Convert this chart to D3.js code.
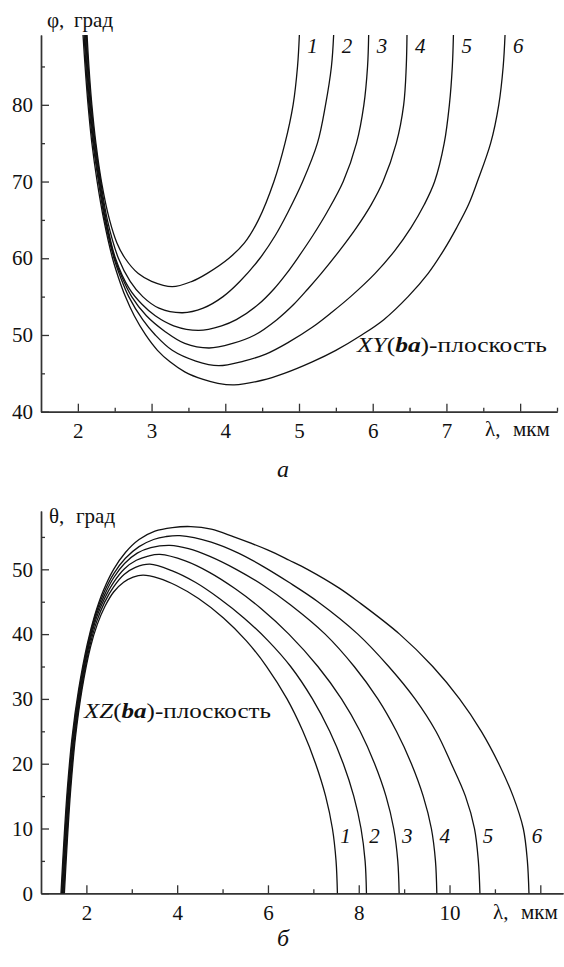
<!DOCTYPE html>
<html>
<head>
<meta charset="utf-8">
<script src="https://cdn.jsdelivr.net/npm/d3@7"></script>
<style>
  body { margin: 0; background: #fff; }
  svg { display: block; }
</style>
</head>
<body>
<svg id="chart" width="564" height="967"></svg>
<script>
// ---- panel a: XY(ba) plane, phi (deg) vs lambda (um)
const xy1 = [[2.125,89.1],[2.15,85],[2.19,80],[2.245,75],[2.32,70],[2.43,65],[2.53,62],[2.64,60],[2.82,58],[3.0,57],[3.28,56.3],[3.55,57],[3.75,58],[4.05,60],[4.26,62],[4.45,65],[4.66,70],[4.81,75],[4.92,80],[4.98,85],[5.005,89.1]];
const xy2 = [[2.115,89.1],[2.14,85],[2.18,80],[2.235,75],[2.31,70],[2.40,65],[2.55,60],[2.71,57],[2.88,55],[3.1,53.5],[3.42,52.9],[3.7,53.5],[3.97,55],[4.2,57],[4.47,60],[4.68,63],[4.85,66],[5.05,70],[5.25,75],[5.36,80],[5.44,85],[5.47,89.1]];
const xy3 = [[2.105,89.1],[2.13,85],[2.17,80],[2.225,75],[2.30,70],[2.385,65],[2.51,60],[2.70,56],[2.87,54],[3.05,52.5],[3.3,51.2],[3.64,50.6],[3.95,51.2],[4.15,52],[4.45,54],[4.66,56],[4.83,58],[4.98,60],[5.19,63],[5.38,66],[5.6,70],[5.78,75],[5.88,80],[5.93,85],[5.945,89.1]];
const xy4 = [[2.095,89.1],[2.12,85],[2.16,80],[2.215,75],[2.29,70],[2.375,65],[2.50,60],[2.6,57.5],[2.73,55],[2.93,52.5],[3.19,50.4],[3.45,48.9],[3.78,48.3],[4.1,48.9],[4.4,50],[4.7,52],[4.93,54],[5.12,56],[5.3,58],[5.55,61],[5.78,64],[5.98,67],[6.14,70],[6.32,75],[6.42,80],[6.455,85],[6.465,89.1]];
const xy5 = [[2.085,89.1],[2.11,85],[2.15,80],[2.205,75],[2.28,70],[2.365,65],[2.49,60],[2.58,57.5],[2.69,55],[2.88,52],[3.05,50],[3.28,48],[3.6,46.6],[3.91,46.0],[4.25,46.6],[4.55,47.5],[4.85,49],[5.18,51],[5.45,53],[5.7,55],[6.03,58],[6.3,61],[6.52,64],[6.7,67],[6.84,70],[6.97,75],[7.04,80],[7.08,85],[7.095,89.1]];
const xy6 = [[2.07,89.1],[2.098,85],[2.138,80],[2.19,75],[2.262,70],[2.352,65],[2.47,60],[2.55,57.5],[2.645,55],[2.765,52.5],[2.92,50],[3.08,48],[3.25,46.5],[3.45,45.2],[3.7,44.2],[3.9,43.7],[4.12,43.5],[4.5,44.1],[4.8,45],[5.18,46.5],[5.5,48],[5.85,50],[6.15,52],[6.48,55],[6.75,58],[6.96,61],[7.14,64],[7.3,67],[7.42,70],[7.6,75],[7.71,80],[7.77,85],[7.795,89.1]];

// ---- panel б: XZ(ba) plane, theta (deg) vs lambda (um)
const xz1 = [[1.515,0],[1.583,8.5],[1.654,16],[1.758,24],[1.905,31.5],[2.09,38],[2.24,41.5],[2.41,44.3],[2.6,46.5],[2.82,48.0],[3.03,48.8],[3.25,49.1],[3.6,48.6],[3.98,47.5],[4.47,45.5],[5.02,42.5],[5.52,39],[5.97,35],[6.42,30],[6.77,25],[7.05,20],[7.27,15],[7.42,10],[7.50,5],[7.53,0]];
const xz2 = [[1.50,0],[1.568,8.5],[1.639,16],[1.743,24],[1.89,31.5],[2.08,38.3],[2.23,42],[2.40,44.9],[2.6,47.3],[2.83,49.2],[3.08,50.3],[3.4,50.8],[3.88,49.8],[4.4,48],[4.93,45.5],[5.47,42.5],[6.0,39],[6.5,35],[6.98,30],[7.36,25],[7.66,20],[7.89,15],[8.05,10],[8.14,5],[8.17,0]];
const xz3 = [[1.485,0],[1.553,8.5],[1.624,16],[1.728,24],[1.875,31.5],[2.065,38.5],[2.22,42.5],[2.40,45.5],[2.6,48],[2.84,50.1],[3.1,51.4],[3.36,52.05],[3.62,52.3],[4.18,51.3],[4.72,49.5],[5.28,47],[5.84,44],[6.46,40],[7.1,35],[7.62,30],[8.03,25],[8.35,20],[8.6,15],[8.77,10],[8.86,5],[8.89,0]];
const xz4 = [[1.47,0],[1.538,8.5],[1.609,16],[1.713,24],[1.86,31.5],[2.05,38.5],[2.21,42.8],[2.39,45.9],[2.6,48.7],[2.84,50.9],[3.12,52.5],[3.42,53.35],[3.84,53.7],[4.25,53.2],[4.72,52],[5.3,50],[5.9,47.5],[6.5,44.5],[7.26,40],[7.9,35],[8.42,30],[8.83,25],[9.16,20],[9.42,15],[9.6,10],[9.69,5],[9.72,0]];
const xz5 = [[1.455,0],[1.523,8.5],[1.594,16],[1.698,24],[1.845,31.5],[2.035,38.5],[2.20,43],[2.38,46.3],[2.60,49.3],[2.86,51.7],[3.16,53.5],[3.48,54.6],[3.75,55.05],[4.06,55.2],[4.75,54.2],[5.35,52.5],[5.88,50.5],[6.46,48],[7.1,45],[7.98,40],[8.66,35],[9.24,30],[9.7,25],[10.04,20],[10.35,15],[10.55,10],[10.635,5],[10.67,0]];
const xz6 = [[1.44,0],[1.508,8.5],[1.579,16],[1.683,24],[1.83,31.5],[2.02,38.5],[2.187,43],[2.372,46.7],[2.60,50],[2.86,52.6],[3.16,54.6],[3.51,55.9],[3.895,56.45],[4.3,56.6],[4.75,56.2],[5.25,55],[5.99,53],[6.47,51.4],[6.87,50],[7.57,47.1],[7.99,45],[8.9,40],[9.63,35],[10.22,30],[10.7,25],[11.085,20],[11.40,15],[11.625,10],[11.715,5],[11.75,0]];

const curveNames = ['1', '2', '3', '4', '5', '6'];

// ticks
const xyMajorX = [2, 3, 4, 5, 6, 7, 8];
const xyMinorX = [2.5, 3.5, 4.5, 5.5, 6.5, 7.5, 8.5];
const xyLabelX = [2, 3, 4, 5, 6, 7];
const xyMajorY = [40, 50, 60, 70, 80];
const xyMinorY = [45, 55, 65, 75, 85];

const xzMajorX = [2, 4, 6, 8, 10, 12];
const xzMinorX = [3, 5, 7, 9, 11];
const xzLabelX = [2, 4, 6, 8, 10];
const xzMajorY = [0, 10, 20, 30, 40, 50];
const xzMinorY = [5, 15, 25, 35, 45, 55];

// pick an installed serif face; measure against two generic fallbacks
function pickFont(names) {
  const ctx = document.createElement('canvas').getContext('2d');
  const probe = 'mmwwiiWWграДд0123456789λφ';
  const base = ['monospace', 'sans-serif'].map(f => { ctx.font = `40px ${f}`; return ctx.measureText(probe).width; });
  for (const n of names) {
    const differs = ['monospace', 'sans-serif'].some((f, i) => {
      ctx.font = `40px "${n}", ${f}`;
      return Math.abs(ctx.measureText(probe).width - base[i]) > 0.5;
    });
    if (differs) return `"${n}", serif`;
  }
  return 'serif';
}
const FONT = pickFont(['Liberation Serif', 'DejaVu Serif', 'Noto Serif', 'Tinos', 'FreeSerif', 'Nimbus Roman', 'Times New Roman', 'Times']);

const svg = d3.select('#chart');
svg.style('font-family', FONT);

function styleAxis(g) {
  g.attr('font-family', FONT).attr('font-size', 21);
  g.selectAll('path.domain').attr('stroke', '#333').attr('stroke-width', 1.4);
  g.selectAll('.tick line').attr('stroke', '#333').attr('stroke-width', 1.3);
  g.selectAll('.tick text').attr('fill', '#111');
}

function drawPanel(p) {
  const x = d3.scaleLinear().domain(p.xDomain).range(p.xRange);
  const y = d3.scaleLinear().domain(p.yDomain).range(p.yRange);
  const g = svg.append('g').attr('font-family', FONT).attr('fill', '#111');

  // minor ticks first, then major with labels
  g.append('g').attr('transform', `translate(0,${p.yRange[0]})`)
    .call(d3.axisBottom(x).tickValues(p.minorX).tickSize(-4).tickSizeOuter(0).tickFormat(''))
    .call(styleAxis);
  g.append('g').attr('transform', `translate(0,${p.yRange[0]})`)
    .call(d3.axisBottom(x).tickValues(p.majorX).tickSize(-8).tickSizeOuter(0).tickPadding(p.xPad)
      .tickFormat(d => p.labelX.includes(d) ? d : ''))
    .call(styleAxis);
  g.append('g').attr('transform', `translate(${p.xRange[0]},0)`)
    .call(d3.axisLeft(y).tickValues(p.minorY).tickSize(-4).tickSizeOuter(0).tickFormat(''))
    .call(styleAxis);
  g.append('g').attr('transform', `translate(${p.xRange[0]},0)`)
    .call(d3.axisLeft(y).tickValues(p.majorY).tickSize(-8).tickSizeOuter(0).tickPadding(8))
    .call(styleAxis);

  const line = d3.line()
    .x(d => x(d[0]))
    .y(d => y(d[1]))
    .curve(d3.curveCatmullRom.alpha(0.5));

  g.append('g').selectAll('path')
    .data(p.curves)
    .enter()
    .append('path')
    .attr('d', line)
    .attr('fill', 'none')
    .attr('stroke', '#111')
    .attr('stroke-width', 1.3);

  // curve numbers next to the line ends
  g.append('g').selectAll('text')
    .data(p.curves)
    .enter()
    .append('text')
    .attr('x', d => x(d[d.length - 1][0]) + p.numDx)
    .attr('y', p.numY)
    .attr('text-anchor', p.numAnchor)
    .attr('font-size', 21)
    .attr('font-style', 'italic')
    .text((d, i) => curveNames[i]);

  // axis titles
  const yt = g.append('text').attr('x', p.yTitle[0]).attr('y', p.yTitle[1]).attr('font-size', 21);
  yt.append('tspan').text(p.yTitleSym + ',');
  yt.append('tspan').attr('x', p.yTitle[0] + 27).text('град');
  const xt = g.append('text').attr('x', p.xTitle[0]).attr('y', p.xTitle[1]).attr('font-size', 21);
  xt.append('tspan').text('λ,');
  xt.append('tspan').attr('x', p.xTitle[0] + 28).text('мкм');

  // plane label
  const pl = g.append('text')
    .attr('x', p.plane[0]).attr('y', p.plane[1])
    .attr('font-size', 21)
    .attr('textLength', p.plane[2])
    .attr('lengthAdjust', 'spacingAndGlyphs');
  pl.append('tspan').attr('font-style', 'italic').text(p.planeAxes);
  pl.append('tspan').text('(');
  pl.append('tspan').attr('font-style', 'italic').attr('font-weight', 'bold').text('ba');
  pl.append('tspan').text(')-плоскость');

  // panel letter
  g.append('text')
    .attr('x', p.letter[0]).attr('y', p.letter[1])
    .attr('text-anchor', 'middle')
    .attr('font-size', 24)
    .attr('font-style', 'italic')
    .text(p.letterText);
}

drawPanel({
  xDomain: [1.5, 8.5], xRange: [41, 557],
  yDomain: [40, 89.1], yRange: [411.7, 35],
  majorX: xyMajorX, minorX: xyMinorX, labelX: xyLabelX,
  majorY: xyMajorY, minorY: xyMinorY,
  xPad: 11,
  curves: [xy1, xy2, xy3, xy4, xy5, xy6],
  numDx: 8, numY: 53, numAnchor: 'start',
  yTitle: [47, 27], yTitleSym: 'φ',
  xTitle: [485, 436],
  plane: [357, 352, 190], planeAxes: 'XY',
  letter: [283, 477], letterText: 'a'
});

drawPanel({
  xDomain: [1, 12.5], xRange: [41, 563],
  yDomain: [0, 59], yRange: [893.3, 511],
  majorX: xzMajorX, minorX: xzMinorX, labelX: xzLabelX,
  majorY: xzMajorY, minorY: xzMinorY,
  xPad: 12,
  curves: [xz1, xz2, xz3, xz4, xz5, xz6],
  numDx: 8, numY: 843, numAnchor: 'middle',
  yTitle: [49, 523], yTitleSym: 'θ',
  xTitle: [493, 919],
  plane: [84, 718, 187], planeAxes: 'XZ',
  letter: [283, 946], letterText: 'б'
});
</script>
</body>
</html>
